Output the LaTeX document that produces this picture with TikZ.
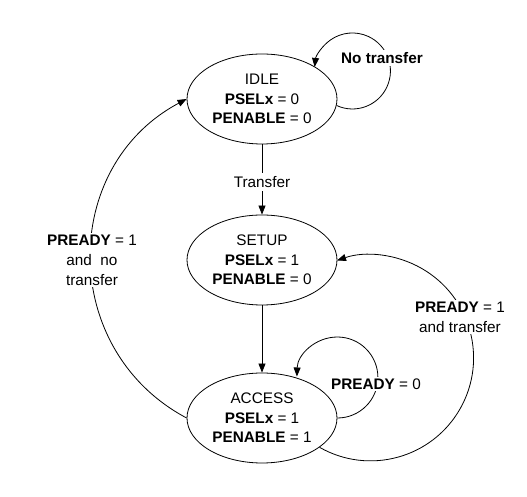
\documentclass[tikz,border=0pt]{standalone}
\usepackage{fontspec}
\setmainfont{Liberation Sans}
\usetikzlibrary{arrows.meta,shapes.geometric}
\begin{document}
\begin{tikzpicture}[x=1pt,y=1pt,
  state/.style={draw, ellipse, line width=0.8pt, minimum width=150pt, minimum height=90pt,
    inner sep=0pt, align=center, font=\fontsize{15.3}{19.5}\selectfont},
  lbl/.style={fill=white, inner sep=2pt, align=center, font=\fontsize{15.3}{20}\selectfont},
  arr/.style={-{Triangle[length=9pt,width=7pt]}, line width=0.8pt},
]
\useasboundingbox (0,0) rectangle (527,497);
\node[state] (idle)   at (262,398) {IDLE\\\textbf{PSELx} = 0\\\textbf{PENABLE} = 0};
\node[state] (setup)  at (262,237) {SETUP\\\textbf{PSELx} = 1\\\textbf{PENABLE} = 0};
\node[state] (access) at (262,79)  {ACCESS\\\textbf{PSELx} = 1\\\textbf{PENABLE} = 1};

\draw[arr] (idle) -- node[lbl, pos=0.535, inner sep=3pt] (ltransfer) {Transfer} (setup);
\draw[arr] (setup) -- (access);

% self loops
\draw[arr] (idle.-5) arc[start angle=245.4, end angle=534, radius=38];
\draw[arr] (access.east) arc[start angle=270, end angle=538.6, radius=40.5];

% big arcs
\draw[arr] (access.west) to[out=152, in=208, looseness=1.16] (idle.west);
\draw[arr] (access.-27) arc[start angle=240.3, end angle=469, radius=103];

% labels
\node[lbl] (lnotr) at (382,439) {\textbf{No transfer}};
\node[lbl] (lr0)   at (376,113) {\textbf{PREADY} = 0};
\node[lbl] (lr1no) at (92,237)  {\textbf{PREADY} = 1\\and \ no\\transfer};
\node[lbl] (lr1tr) at (460,180) {\textbf{PREADY} = 1\\and transfer};
\end{tikzpicture}
\end{document}
